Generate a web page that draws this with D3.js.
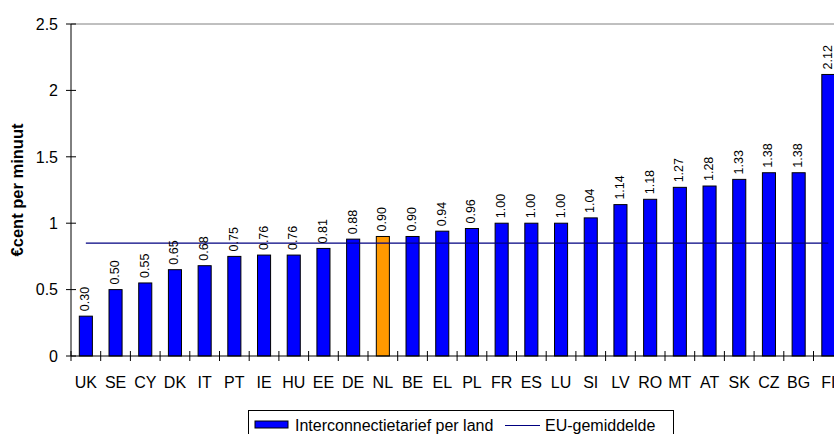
<!DOCTYPE html>
<html lang="nl">
<head>
  <meta charset="UTF-8">
  <title>Interconnectietarief per land</title>
  <script src="https://d3js.org/d3.v7.min.js"></script>
  <style>
    html, body { margin:0; padding:0; background:#fff; overflow:hidden; }
    svg { display:block; font-family: Arial, "Liberation Sans", sans-serif; }
  </style>
</head>
<body>
  <svg id="chart" width="834" height="434"></svg>
  <script>
    // data
    const countries = ["UK","SE","CY","DK","IT","PT","IE","HU","EE","DE","NL","BE","EL",
                       "PL","FR","ES","LU","SI","LV","RO","MT","AT","SK","CZ","BG","FI"];
    const tariffs   = [0.30,0.50,0.55,0.65,0.68,0.75,0.76,0.76,0.81,0.88,0.90,0.90,0.94,
                       0.96,1.00,1.00,1.00,1.04,1.14,1.18,1.27,1.28,1.33,1.38,1.38,2.12];
    const euAverage = 0.85;
    const highlight = "NL";
    const yTicks = [0, 0.5, 1, 1.5, 2, 2.5];

    const svg = d3.select("#chart");
    const plotL = 71, plotT = 24, plotB = 356, step = 29.7;
    const plotR = plotL + countries.length * step;

    const x = d3.scaleBand().domain(countries).range([plotL, plotR]).padding(0);
    const y = d3.scaleLinear().domain([0, 2.5]).range([plotB, plotT]);
    const barW = x.bandwidth() * 0.44;

    // plot frame top line
    svg.append("line")
      .attr("x1", plotL).attr("x2", plotR)
      .attr("y1", y(2.5)).attr("y2", y(2.5))
      .attr("stroke", "#808080").attr("stroke-width", 1);

    // bars
    svg.selectAll(".bar")
      .data(countries)
      .join("rect")
        .attr("class", "bar")
        .attr("x", (d) => x(d) + x.bandwidth()/2 - barW/2)
        .attr("y", (d, i) => y(tariffs[i]))
        .attr("width", barW)
        .attr("height", (d, i) => y(0) - y(tariffs[i]))
        .attr("fill", d => d === highlight ? "#FF9900" : "#0000FF")
        .attr("stroke", "#000").attr("stroke-width", 1);

    // EU average line
    svg.append("line")
      .attr("x1", x(countries[0]) + x.bandwidth()/2)
      .attr("x2", x(countries[countries.length-1]) + x.bandwidth()/2)
      .attr("y1", y(euAverage)).attr("y2", y(euAverage))
      .attr("stroke", "#000080").attr("stroke-width", 1.2);

    // value labels
    svg.selectAll(".val")
      .data(countries)
      .join("text")
        .attr("class", "val")
        .attr("transform", (d, i) => `translate(${x(d) + x.bandwidth()/2 - 1},${y(tariffs[i]) - 5}) rotate(-90)`)
        .attr("dy", "0.36em")
        .attr("font-size", 12.5)
        .attr("fill", "#000")
        .text((d, i) => tariffs[i].toFixed(2));

    // y axis
    svg.append("line")
      .attr("x1", plotL).attr("x2", plotL)
      .attr("y1", plotT).attr("y2", plotB)
      .attr("stroke", "#000");
    const yt = svg.selectAll(".ytick").data(yTicks).join("g")
      .attr("transform", d => `translate(0,${y(d)})`);
    yt.append("line").attr("x1", plotL - 5).attr("x2", plotL + 5).attr("stroke", "#000");
    yt.append("text")
      .attr("x", plotL - 13).attr("dy", "0.36em")
      .attr("text-anchor", "end").attr("font-size", 16)
      .text(d => d);

    // x axis
    svg.append("line")
      .attr("x1", plotL).attr("x2", plotR)
      .attr("y1", plotB).attr("y2", plotB)
      .attr("stroke", "#000");
    svg.selectAll(".xtick")
      .data(d3.range(countries.length + 1))
      .join("line")
        .attr("x1", i => plotL + i * x.step()).attr("x2", i => plotL + i * x.step())
        .attr("y1", plotB - 5).attr("y2", plotB + 5)
        .attr("stroke", "#000");
    svg.selectAll(".xlab")
      .data(countries)
      .join("text")
        .attr("x", d => x(d) + x.bandwidth()/2)
        .attr("y", 388)
        .attr("text-anchor", "middle").attr("font-size", 16)
        .text(d => d);

    // y axis title
    svg.append("text")
      .attr("transform", `translate(23,${(plotT + plotB)/2}) rotate(-90)`)
      .attr("text-anchor", "middle")
      .attr("font-size", 16.5).attr("font-weight", "bold")
      .text("€cent per minuut");

    // legend
    const lg = svg.append("g");
    lg.append("rect")
      .attr("x", 248.5).attr("y", 410.5).attr("width", 425).attr("height", 30)
      .attr("fill", "#fff").attr("stroke", "#000");
    lg.append("rect")
      .attr("x", 255).attr("y", 421).attr("width", 33).attr("height", 7)
      .attr("fill", "#0000FF").attr("stroke", "#000");
    lg.append("text")
      .attr("x", 295).attr("y", 431).attr("font-size", 16)
      .text("Interconnectietarief per land");
    lg.append("line")
      .attr("x1", 505).attr("x2", 540).attr("y1", 425.5).attr("y2", 425.5)
      .attr("stroke", "#000080").attr("stroke-width", 1.2);
    lg.append("text")
      .attr("x", 545).attr("y", 431).attr("font-size", 16)
      .text("EU-gemiddelde");
  </script>
</body>
</html>
